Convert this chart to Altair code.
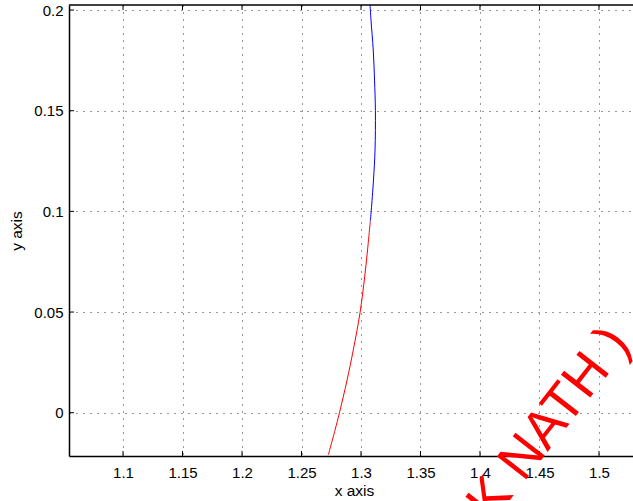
import altair as alt
import pandas as pd

# ---- data ----
x_ticks = [1.1, 1.15, 1.2, 1.25, 1.3, 1.35, 1.4, 1.45, 1.5]
y_ticks = [0.0, 0.05, 0.1, 0.15, 0.2]
x_domain = [1.0546, 1.5286]
y_domain = [-0.0215, 0.2025]

red_x = [1.2725, 1.2782, 1.2819, 1.2883, 1.2935, 1.2992, 1.3028, 1.3055, 1.3078]
red_y = [-0.0210, -0.0086, 0.0, 0.0162, 0.0311, 0.0497, 0.0659, 0.0808, 0.0949]
blue_x = [1.3078, 1.3086, 1.3105, 1.3118, 1.3121, 1.3114, 1.3103, 1.3084, 1.3076]
blue_y = [0.0949, 0.1003, 0.1156, 0.1305, 0.1500, 0.1652, 0.1801, 0.1950, 0.2025]

watermark_text = ["K NATH )"]
watermark_x = [1.4101]
watermark_y = [-0.0548]

W, H = 564, 451
FONT = "Liberation Sans"

xs = alt.Scale(domain=x_domain, nice=False, zero=False)
ys = alt.Scale(domain=y_domain, nice=False, zero=False)

common = dict(
    domainColor="black", domainWidth=1.5, ticks=False, tickSize=0,
    grid=True, gridColor="black", gridDash=[1, 6], gridWidth=1, gridOpacity=0.8,
    labelFont=FONT, labelFontSize=15, labelColor="black",
    titleFont=FONT, titleFontSize=15.5, titleFontWeight="normal", titleColor="black",
    format="~g", labelFlush=False, labelOverlap=False,
)

x_axis = alt.Axis(values=x_ticks, title="x axis", labelPadding=21.5,
                  labelBaseline="alphabetic", titleX=285, titleY=39,
                  titleAlign="center", titleBaseline="alphabetic", **common)
y_axis = alt.Axis(values=y_ticks, title="y axis", labelPadding=6,
                  titleX=-48, titleY=225.5, titleAngle=270, titleAlign="center",
                  titleBaseline="alphabetic", **common)


def X(field):
    return alt.X(field, scale=xs, axis=x_axis, title="x axis")


def Y(field):
    return alt.Y(field, scale=ys, axis=y_axis, title="y axis")


red = pd.DataFrame({"x": red_x, "y": red_y, "o": list(range(len(red_x)))})
blue = pd.DataFrame({"x": blue_x, "y": blue_y, "o": list(range(len(blue_x)))})
xt = pd.DataFrame({"t": x_ticks})
yt = pd.DataFrame({"t": y_ticks})
wm = pd.DataFrame({"x": watermark_x, "y": watermark_y, "t": watermark_text})
one = pd.DataFrame({"a": [0]})

red_line = alt.Chart(red).mark_line(color="#ff0000", strokeWidth=1,
                                    interpolate="catmull-rom", clip=True).encode(
    x=X("x:Q"), y=Y("y:Q"), order="o:O")
blue_line = alt.Chart(blue).mark_line(color="#0000ff", strokeWidth=1,
                                      interpolate="catmull-rom", clip=True).encode(
    x=X("x:Q"), y=Y("y:Q"), order="o:O")

tick_bottom = alt.Chart(xt).mark_rule(color="black", strokeWidth=1).encode(
    x=X("t:Q"), y=alt.value(H), y2=alt.value(H - 5))
tick_top = alt.Chart(xt).mark_rule(color="black", strokeWidth=1).encode(
    x=X("t:Q"), y=alt.value(0), y2=alt.value(5))
tick_left = alt.Chart(yt).mark_rule(color="black", strokeWidth=1).encode(
    y=Y("t:Q"), x=alt.value(0), x2=alt.value(5))
top_border = alt.Chart(one).mark_rule(color="black", strokeWidth=1.5).encode(
    x=alt.value(0), x2=alt.value(W), y=alt.value(0))

watermark = alt.Chart(wm).mark_text(color="#ff0000", fontSize=54, font=FONT,
                                    angle=308, align="left",
                                    baseline="alphabetic").encode(
    x=X("x:Q"), y=Y("y:Q"), text="t:N")

chart = alt.layer(
    red_line, blue_line, tick_bottom, tick_top, tick_left, top_border, watermark
).properties(
    width=W, height=H,
    autosize=alt.AutoSizeParams(type="none"),
    padding={"left": 69, "top": 5, "right": 0, "bottom": 45},
    background="white",
).configure_view(strokeWidth=0)

chart.save("out.html", embed_options={"renderer": "svg", "actions": False})
